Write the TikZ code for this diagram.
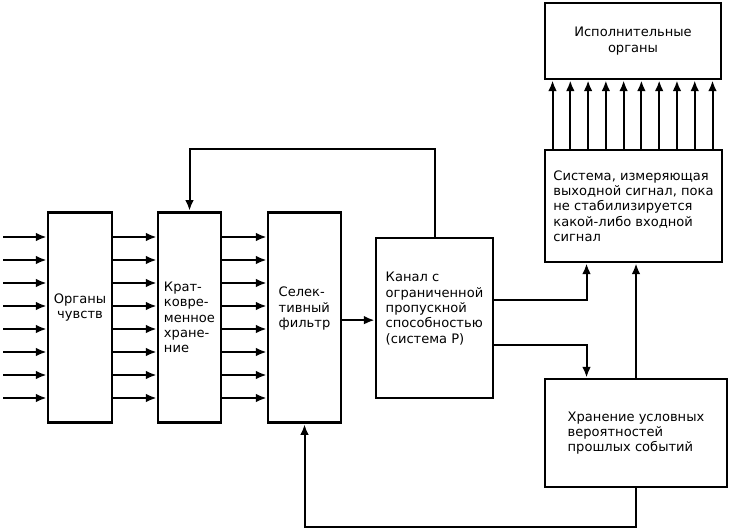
\documentclass[tikz,border=0pt]{standalone}
\usepackage{fontspec}
\setmainfont{DejaVu Sans}
\usetikzlibrary{arrows.meta,positioning,calc}

\begin{document}
\begin{tikzpicture}[
    x=0.75pt, y=-0.75pt,
    block/.style={rectangle, draw, line width=2.2pt, align=left, inner sep=2pt,
        font=\fontsize{9.8}{11.5}\selectfont},
    tall/.style={block, minimum height=158pt},
    arrow/.style={-{Latex[length=8pt,width=6.5pt]}, line width=1.5pt}
]
\useasboundingbox (0,0) rectangle (731,531);

% Left column of blocks
\node[tall, minimum width=48pt, align=center] (sense) at (80,317.5) {Органы\\чувств\\[6pt]};
\node[tall, minimum width=47.25pt] (stm) at (189.5,317.5) {Крат-\\ковре-\\менное\\хране-\\ние};
\node[tall, minimum width=54.75pt] (filt) at (304.5,317.5) {Селек-\\тивный\\фильтр\\[4pt]};

% Channel
\node[block, minimum width=87.75pt, minimum height=120pt] (chan) at (434.5,318)
    {Канал с\\ограниченной\\пропускной\\способностью\\(система Р)\\[4pt]};

% Right column of blocks
\node[block, minimum width=132pt, minimum height=57pt, align=center] (act) at (633,41)
    {Исполнительные\\органы};
\node[block, minimum width=132.75pt, minimum height=84pt] (meas) at (633.5,206)
    {Система, измеряющая\\выходной сигнал, пока\\не стабилизируется\\какой-либо входной\\сигнал};
\node[block, minimum width=136.5pt, minimum height=81pt] (mem) at (636,433)
    {Хранение условных\\вероятностей\\прошлых событий};

% Parallel input lines
\foreach \i in {1,...,8} {
    \coordinate (in\i) at (3,{237+23*(\i-1)});
    \draw[arrow] (in\i) -- (in\i -| sense.west);
    \draw[arrow] (in\i -| sense.east) -- (in\i -| stm.west);
    \draw[arrow] (in\i -| stm.east) -- (in\i -| filt.west);
}

% Outputs to effectors
\foreach \i in {0,...,9}
    \draw[arrow] ([xshift={6.75pt+13.33pt*\i}]meas.north west) -- ([xshift={6.75pt+13.33pt*\i}]act.south west);

% Filter to channel
\draw[arrow] ([yshift=-2pt]filt.east) -- ([yshift=-2pt]filt.east -| chan.west);

% Channel outputs
\draw[arrow] ([yshift=13.5pt]chan.east) -| ([xshift=32.25pt]meas.south west);
\draw[arrow] ([yshift=-20.25pt]chan.east) -| ([xshift=32.25pt]mem.north west);

% Memory to measuring system
\draw[arrow] (mem.north) -- (mem.north |- meas.south);

% Feedback loops
\coordinate (top) at (0,149);
\coordinate (bot) at (0,527);
\draw[arrow] (chan.north) |- (top -| stm.north) -- (stm.north);
\draw[arrow] (mem.south) |- (bot -| filt.south) -- (filt.south);

\end{tikzpicture}
\end{document}
